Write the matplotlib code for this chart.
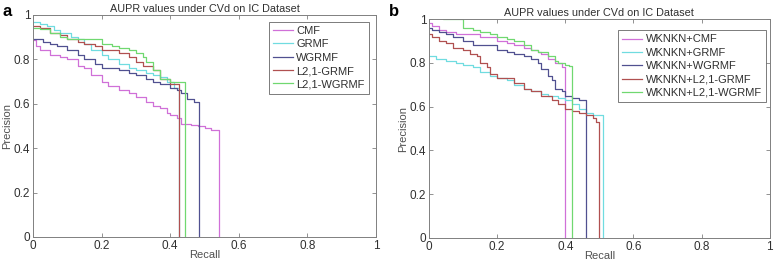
import matplotlib
matplotlib.use('Agg')
import matplotlib.pyplot as plt

plt.rcParams['font.family'] = ['Liberation Sans', 'DejaVu Sans']

# panel a: recall / precision step points
a_names = ['CMF', 'GRMF', 'WGRMF', 'L2,1-GRMF', 'L2,1-WGRMF']
a_recall = [
    [0, 0.01, 0.02, 0.05, 0.08, 0.1, 0.13, 0.15, 0.17, 0.2, 0.22, 0.25, 0.28, 0.3, 0.33, 0.35, 0.37, 0.39, 0.4, 0.42, 0.43, 0.46, 0.48, 0.5, 0.52, 0.543],
    [0, 0.02, 0.04, 0.06, 0.08, 0.11, 0.13, 0.15, 0.17, 0.2, 0.22, 0.25, 0.28, 0.3, 0.33, 0.35, 0.37, 0.39, 0.41, 0.425],
    [0, 0.03, 0.05, 0.07, 0.1, 0.13, 0.15, 0.18, 0.2, 0.25, 0.28, 0.3, 0.33, 0.35, 0.37, 0.4, 0.42, 0.43, 0.45, 0.47, 0.483],
    [0, 0.02, 0.05, 0.08, 0.1, 0.13, 0.15, 0.18, 0.2, 0.25, 0.28, 0.3, 0.32, 0.35, 0.37, 0.4, 0.425],
    [0, 0.02, 0.05, 0.08, 0.1, 0.15, 0.2, 0.23, 0.25, 0.28, 0.3, 0.32, 0.33, 0.35, 0.37, 0.4, 0.443],
]
a_precision = [
    [0.885, 0.86, 0.84, 0.82, 0.81, 0.80, 0.77, 0.76, 0.73, 0.70, 0.68, 0.66, 0.65, 0.63, 0.61, 0.59, 0.58, 0.56, 0.55, 0.535, 0.51, 0.505, 0.50, 0.49, 0.48, 0.465],
    [0.97, 0.96, 0.95, 0.93, 0.92, 0.90, 0.89, 0.87, 0.84, 0.82, 0.80, 0.78, 0.76, 0.75, 0.74, 0.73, 0.72, 0.70, 0.67, 0.66],
    [0.89, 0.88, 0.87, 0.86, 0.84, 0.82, 0.80, 0.78, 0.76, 0.75, 0.74, 0.73, 0.71, 0.70, 0.69, 0.67, 0.66, 0.65, 0.62, 0.61, 0.60],
    [0.95, 0.94, 0.92, 0.91, 0.89, 0.88, 0.87, 0.86, 0.84, 0.83, 0.81, 0.79, 0.77, 0.75, 0.71, 0.69, 0.68],
    [0.94, 0.935, 0.92, 0.90, 0.89, 0.89, 0.87, 0.86, 0.85, 0.84, 0.83, 0.81, 0.79, 0.75, 0.71, 0.70, 0.695],
]

# panel b
b_names = ['WKNKN+CMF', 'WKNKN+GRMF', 'WKNKN+WGRMF', 'WKNKN+L2,1-GRMF', 'WKNKN+L2,1-WGRMF']
b_recall = [
    [0, 0.01, 0.03, 0.05, 0.08, 0.12, 0.15, 0.2, 0.23, 0.25, 0.28, 0.3, 0.32, 0.33, 0.35, 0.37, 0.39, 0.40],
    [0, 0.02, 0.05, 0.08, 0.1, 0.13, 0.15, 0.18, 0.2, 0.23, 0.25, 0.28, 0.3, 0.33, 0.35, 0.38, 0.4, 0.42, 0.44, 0.46, 0.48, 0.5, 0.511],
    [0, 0.01, 0.03, 0.05, 0.07, 0.1, 0.13, 0.15, 0.2, 0.23, 0.25, 0.28, 0.3, 0.32, 0.33, 0.35, 0.36, 0.37, 0.39, 0.4, 0.42, 0.44, 0.46],
    [0, 0.01, 0.03, 0.05, 0.07, 0.1, 0.12, 0.14, 0.15, 0.17, 0.18, 0.2, 0.23, 0.25, 0.28, 0.3, 0.33, 0.36, 0.38, 0.4, 0.42, 0.44, 0.46, 0.48, 0.49, 0.5],
    [0, 0.04, 0.07, 0.1, 0.13, 0.15, 0.18, 0.2, 0.23, 0.25, 0.28, 0.3, 0.32, 0.35, 0.37, 0.38, 0.4, 0.41, 0.42],
]
b_precision = [
    [0.98, 0.97, 0.95, 0.94, 0.93, 0.93, 0.92, 0.90, 0.89, 0.88, 0.87, 0.86, 0.85, 0.84, 0.82, 0.80, 0.78, 0.77],
    [0.83, 0.82, 0.81, 0.80, 0.79, 0.78, 0.76, 0.74, 0.73, 0.72, 0.70, 0.68, 0.67, 0.66, 0.65, 0.64, 0.63, 0.61, 0.59, 0.57, 0.56, 0.56, 0.55],
    [0.96, 0.95, 0.94, 0.93, 0.92, 0.90, 0.88, 0.88, 0.86, 0.85, 0.84, 0.83, 0.82, 0.80, 0.77, 0.74, 0.72, 0.68, 0.67, 0.65, 0.64, 0.63, 0.63],
    [0.93, 0.92, 0.90, 0.89, 0.87, 0.86, 0.84, 0.83, 0.80, 0.78, 0.75, 0.73, 0.73, 0.71, 0.68, 0.67, 0.65, 0.63, 0.61, 0.59, 0.58, 0.57, 0.56, 0.55, 0.53, 0.51],
    [1.02, 1.0, 1.0, 0.96, 0.95, 0.94, 0.93, 0.92, 0.91, 0.90, 0.88, 0.86, 0.85, 0.83, 0.81, 0.80, 0.79, 0.785, 0.78],
]

colors = ['#d070d8', '#70dce0', '#505090', '#b05050', '#70d870']
grey = '#808080'
txt = '#303030'

fig = plt.figure(figsize=(7.78, 2.65), dpi=100)
ax_a = fig.add_axes([0.0424, 0.1057, 0.441, 0.838])
ax_b = fig.add_axes([0.5514, 0.1019, 0.438, 0.826])


def draw(ax, names, rec, prec, leg_anchor):
    for name, r, p, c in zip(names, rec, prec, colors):
        xs = list(r) + [r[-1]]
        ys = list(p) + [0]
        ax.plot(xs, ys, drawstyle='steps-post', color=c, lw=0.9, label=name)
    ax.set_xlim(0, 1)
    ax.set_ylim(0, 1)
    ax.set_xticks([0, 0.2, 0.4, 0.6, 0.8, 1])
    ax.set_xticklabels(['0', '0.2', '0.4', '0.6', '0.8', '1'])
    ax.set_yticks([0, 0.2, 0.4, 0.6, 0.8, 1])
    ax.set_yticklabels(['0', '0.2', '0.4', '0.6', '0.8', '1'])
    ax.tick_params(direction='in', top=True, right=True, length=3, width=0.6,
                   colors=grey, labelcolor=txt, labelsize=8.5, pad=2)
    for s in ax.spines.values():
        s.set_color(grey)
        s.set_linewidth(0.7)
    ax.set_title('AUPR values under CVd on IC Dataset', fontsize=7.8, color=txt, pad=2)
    ax.set_xlabel('Recall', fontsize=8, color='#505050', labelpad=-1)
    ax.set_ylabel('Precision', fontsize=8, color='#505050', labelpad=1)
    leg = ax.legend(loc='upper right', bbox_to_anchor=leg_anchor, fontsize=8,
                    frameon=True, fancybox=False, borderpad=0.4, labelspacing=0.3,
                    handlelength=1.8, handletextpad=0.3, borderaxespad=0)
    leg.get_frame().set_edgecolor('#404040')
    leg.get_frame().set_linewidth(0.6)
    for t in leg.get_texts():
        t.set_color(txt)


draw(ax_a, a_names, a_recall, a_precision, (0.98, 0.97))
draw(ax_b, b_names, b_recall, b_precision, (0.99, 0.95))

fig.text(0.003, 0.985, 'a', fontsize=12, fontweight='bold', va='top', ha='left')
fig.text(0.5, 0.985, 'b', fontsize=12, fontweight='bold', va='top', ha='left')

fig.savefig('out.png', dpi=100)
